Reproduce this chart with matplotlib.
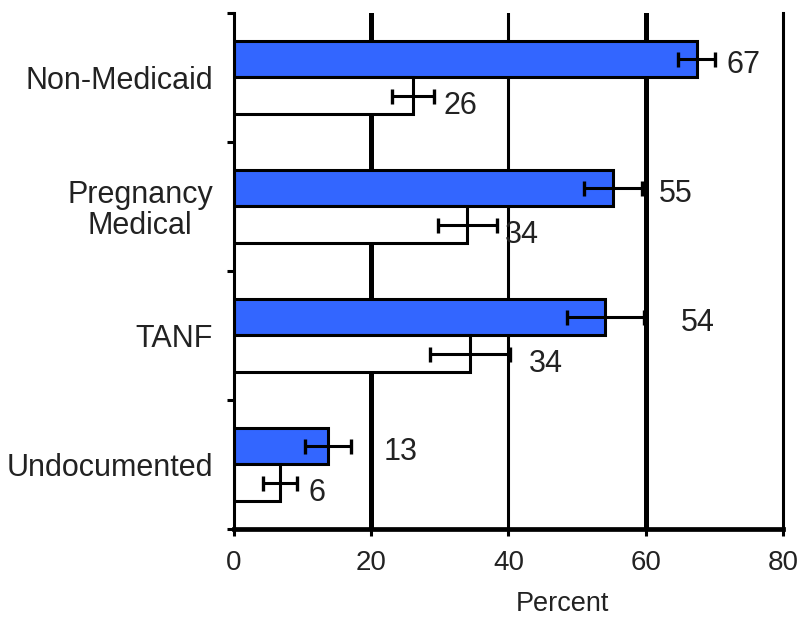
import matplotlib
matplotlib.use("Agg")
import matplotlib.pyplot as plt
import numpy as np

categories = ["Non-Medicaid", "Pregnancy\nMedical", "TANF", "Undocumented"]
series_blue = [67.4, 55.2, 54.1, 13.7]
err_blue = [2.7, 4.2, 5.6, 3.3]
series_white = [26.1, 34.0, 34.4, 6.7]
err_white = [3.1, 4.3, 5.8, 2.5]
xticks = [0, 20, 40, 60, 80]

# layout: horizontal gap (data units) between error bar end and value label
gap_blue = [1.6, 2.5, 5.4, 4.8]
gap_white = [1.4, 1.2, 2.7, 1.7]

plt.rcParams['font.family'] = ['Liberation Sans', 'DejaVu Sans']
txt_color = '#222222'

fig = plt.figure(figsize=(8.01, 6.19), dpi=100)
ax = fig.add_axes([0.2921, 0.1454, 0.6854, 0.8336])

n = len(categories)
ypos = np.arange(n)[::-1].astype(float)
h = 0.28

for x, lw in zip([20, 40, 60], [3.6, 2.2, 3.6]):
    ax.axvline(x, color='black', lw=lw, zorder=1)

ax.barh(ypos + h / 2, series_blue, height=h, color='#3366ff',
        edgecolor='black', linewidth=2.2, zorder=2)
ax.barh(ypos - h / 2, series_white, height=h, color='white',
        edgecolor='black', linewidth=2.2, zorder=2)

ax.errorbar(series_blue, ypos + h / 2, xerr=err_blue, fmt='none', ecolor='black',
            elinewidth=2.2, capsize=5.4, capthick=2.4, zorder=3)
ax.errorbar(series_white, ypos - h / 2, xerr=err_white, fmt='none', ecolor='black',
            elinewidth=2.2, capsize=5.4, capthick=2.4, zorder=3)

for v, e, g, y in zip(series_blue, err_blue, gap_blue, ypos + h / 2):
    ax.text(v + e + g, y - 0.04, f"{int(v)}", fontsize=22, va='center',
            ha='left', color=txt_color, zorder=4)
for v, e, g, y in zip(series_white, err_white, gap_white, ypos - h / 2):
    ax.text(v + e + g, y - 0.08, f"{int(v)}", fontsize=22, va='center',
            ha='left', color=txt_color, zorder=4)

ax.set_xlim(0, 80)
ax.set_ylim(-0.5, n - 0.5)

ax.set_xticks(xticks)
ax.set_xticklabels([str(t) for t in xticks], fontsize=20, color=txt_color)
ax.tick_params(axis='x', length=5, width=2.2, pad=10, direction='out')

ax.set_yticks(np.arange(-0.5, n, 1.0))
ax.set_yticklabels([])
ax.tick_params(axis='y', which='major', length=5, width=2.2, direction='out')
ax.set_yticks(ypos, minor=True)
ax.set_yticklabels(categories, minor=True, fontsize=22, color=txt_color)
ax.tick_params(axis='y', which='minor', length=0, pad=15)
for lab in ax.get_yticklabels(minor=True):
    lab.set_multialignment('center')
    lab.set_linespacing(1.05)

ax.set_xlabel('Percent', fontsize=19.5, color=txt_color, va='center')
ax.xaxis.set_label_coords(0.599, -0.145)

ax.spines['top'].set_visible(False)
ax.spines['left'].set_linewidth(2.2)
ax.spines['right'].set_linewidth(2.2)
ax.spines['bottom'].set_linewidth(3.4)
for s in ax.spines.values():
    s.set_zorder(5)

fig.savefig('out.png', dpi=100)
